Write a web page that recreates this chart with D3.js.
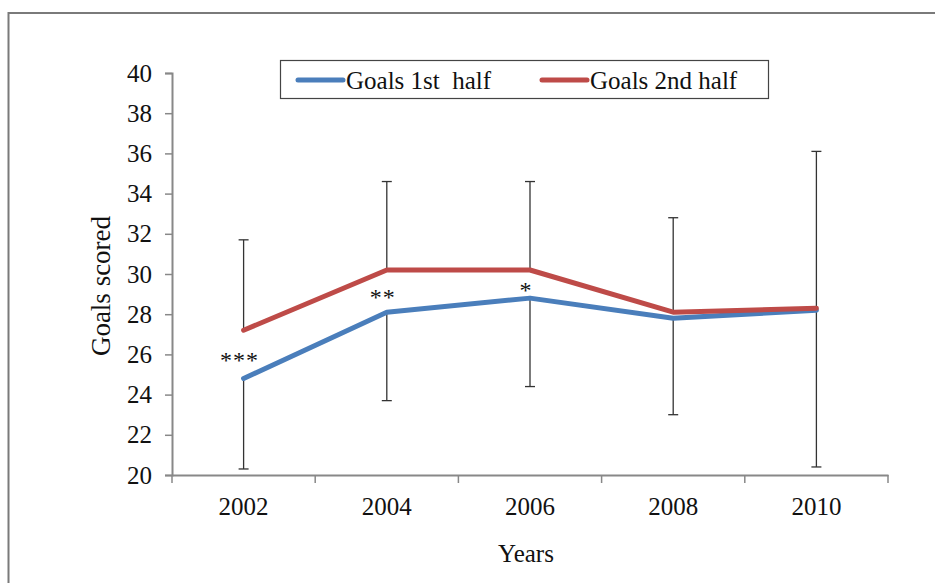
<!DOCTYPE html>
<html>
<head>
<meta charset="utf-8">
<script src="https://cdn.jsdelivr.net/npm/d3@7"></script>
<style>
  html, body { margin: 0; padding: 0; background: #fff; }
  svg { display: block; }
  svg text { font-family: "Liberation Serif", "Times New Roman", serif !important; fill: #111; }
</style>
</head>
<body>
<svg id="chart" width="935" height="583"></svg>
<script>
const years = ["2002", "2004", "2006", "2008", "2010"];
const firstHalf = [24.8, 28.1, 28.8, 27.8, 28.2];
const secondHalf = [27.2, 30.2, 30.2, 28.1, 28.3];
const errFirst = [4.5, 4.4, 4.4, 4.8, 7.8];   // lower whisker on 1st half
const errSecond = [4.5, 4.4, 4.4, 4.7, 7.8];  // upper whisker on 2nd half
const stars = ["***", "**", "*", "", ""];
const yTicks = [20, 22, 24, 26, 28, 30, 32, 34, 36, 38, 40];
const seriesNames = ["Goals 1st  half", "Goals 2nd half"];
const colors = ["#4a7ebb", "#be4b48"];

const svg = d3.select("#chart");
const mLeft = 172, mRight = 888, mTop = 73, mBottom = 475;

// outer frame
svg.append("path")
  .attr("d", "M8.5,583 L8.5,13 L935,13")
  .attr("fill", "none").attr("stroke", "#7a7a7a").attr("stroke-width", 2);

const x = d3.scaleBand().domain(years).range([mLeft, mRight]);
const y = d3.scaleLinear().domain([20, 40]).range([mBottom, mTop]);

// y axis
const yAxis = svg.append("g").attr("transform", `translate(${mLeft},0)`)
  .call(d3.axisLeft(y).tickValues(yTicks).tickSize(7).tickPadding(13).tickFormat(d3.format("d")));
yAxis.select(".domain").attr("stroke", "#888").attr("stroke-width", 2);
yAxis.selectAll(".tick line").attr("stroke", "#888").attr("stroke-width", 1.5);
yAxis.selectAll(".tick text").style("font-size", "25px").attr("fill", "#111");

// x axis
const xAxis = svg.append("g").attr("transform", `translate(0,${mBottom})`)
  .call(d3.axisBottom(x).tickSize(0).tickPadding(22));
xAxis.select(".domain").attr("stroke", "#888").attr("stroke-width", 2);
xAxis.selectAll(".tick text").style("font-size", "25px").attr("fill", "#111");
// band boundary tick marks
const bounds = years.map(d => x(d)).concat([x(years[years.length - 1]) + x.bandwidth()]);
svg.append("g").selectAll("line").data(bounds).join("line")
  .attr("x1", d => d).attr("x2", d => d)
  .attr("y1", mBottom).attr("y2", mBottom + 8)
  .attr("stroke", "#888").attr("stroke-width", 1.5);

const cx = d => x(d) + x.bandwidth() / 2;

// error bars
const eb = svg.append("g").attr("stroke", "#333").attr("stroke-width", 1.3);
years.forEach((yr, i) => {
  const px = cx(yr);
  const hi = secondHalf[i] + errSecond[i];
  const lo = firstHalf[i] - errFirst[i];
  eb.append("line").attr("x1", px).attr("x2", px).attr("y1", y(secondHalf[i])).attr("y2", y(hi));
  eb.append("line").attr("x1", px - 5).attr("x2", px + 5).attr("y1", y(hi)).attr("y2", y(hi));
  eb.append("line").attr("x1", px).attr("x2", px).attr("y1", y(firstHalf[i])).attr("y2", y(lo));
  eb.append("line").attr("x1", px - 5).attr("x2", px + 5).attr("y1", y(lo)).attr("y2", y(lo));
});

// lines
const line = d3.line().x((d, i) => cx(years[i])).y(d => y(d));
[firstHalf, secondHalf].forEach((s, k) => {
  svg.append("path").datum(s)
    .attr("d", line)
    .attr("fill", "none").attr("stroke", colors[k]).attr("stroke-width", 5)
    .attr("stroke-linejoin", "round").attr("stroke-linecap", "round");
});

// significance stars (between the two lines)
svg.append("g").selectAll("text").data(stars).join("text")
  .attr("x", (d, i) => cx(years[i]) - 4)
  .attr("y", (d, i) => (y(firstHalf[i]) + y(secondHalf[i])) / 2 + 14)
  .attr("text-anchor", "middle")
  .style("font-size", "24px")
  .style("letter-spacing", "1px")
  .text(d => d);

// axis titles
svg.append("text").attr("x", 526).attr("y", 562).attr("text-anchor", "middle")
  .style("font-size", "25px").text("Years");
svg.append("text").attr("transform", "translate(110,286) rotate(-90)")
  .attr("text-anchor", "middle").style("font-size", "27px").text("Goals scored");

// legend
const lg = svg.append("g");
lg.append("rect").attr("x", 280.5).attr("y", 60.5).attr("width", 488).attr("height", 38)
  .attr("fill", "#fff").attr("stroke", "#444").attr("stroke-width", 1.2);
const legX = [298, 542];
seriesNames.forEach((n, k) => {
  lg.append("line").attr("x1", legX[k]).attr("x2", legX[k] + 45).attr("y1", 80).attr("y2", 80)
    .attr("stroke", colors[k]).attr("stroke-width", 5).attr("stroke-linecap", "round");
  lg.append("text").attr("x", legX[k] + 48).attr("y", 89).style("font-size", "25px")
    .style("white-space", "pre").text(n);
});
</script>
</body>
</html>
